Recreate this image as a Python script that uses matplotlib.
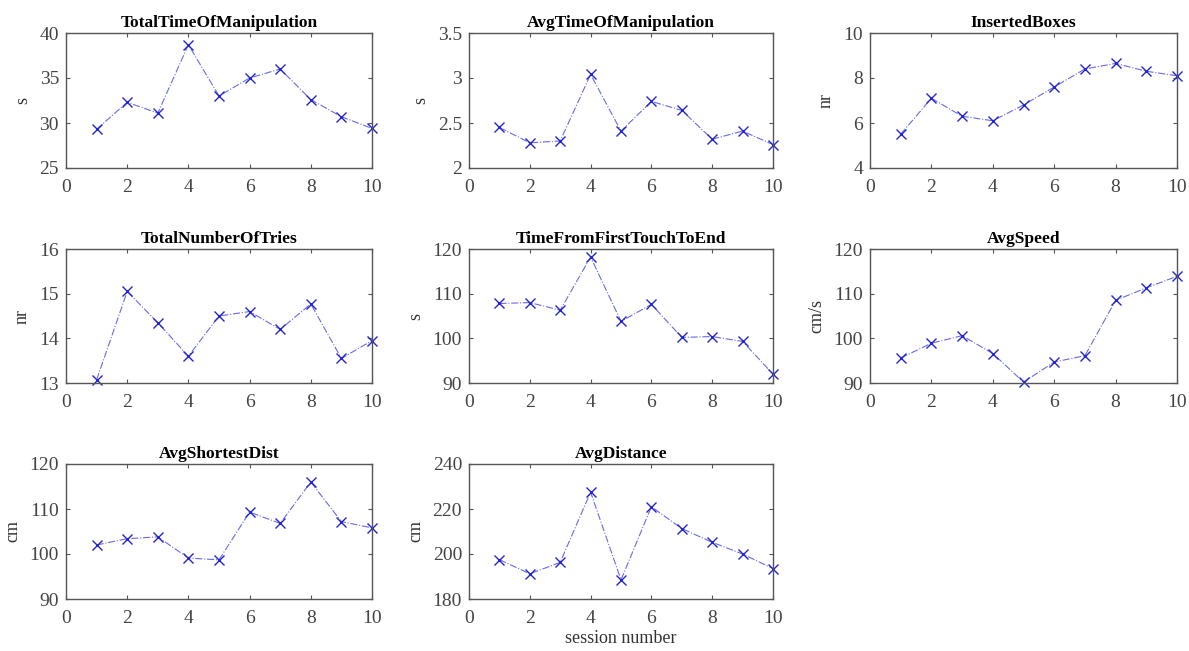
import numpy as np
import matplotlib.pyplot as plt

plt.rcParams['font.family'] = ['Liberation Serif', 'DejaVu Serif']

sessions = [1, 2, 3, 4, 5, 6, 7, 8, 9, 10]

total_time = [29.3, 32.3, 31.1, 38.7, 33.0, 35.0, 36.0, 32.6, 30.7, 29.4]
avg_time = [2.45, 2.28, 2.30, 3.04, 2.41, 2.74, 2.64, 2.32, 2.41, 2.26]
inserted_boxes = [5.5, 7.1, 6.3, 6.1, 6.8, 7.6, 8.4, 8.65, 8.3, 8.1]
total_tries = [13.07, 15.05, 14.35, 13.6, 14.5, 14.6, 14.2, 14.77, 13.55, 13.95]
first_touch_to_end = [107.8, 108.0, 106.3, 118.2, 103.8, 107.6, 100.2, 100.4, 99.3, 92.0]
avg_speed = [95.6, 98.9, 100.6, 96.6, 90.2, 94.7, 96.1, 108.5, 111.3, 113.9]
avg_shortest = [102.0, 103.4, 103.8, 99.1, 98.7, 109.3, 106.8, 116.0, 107.2, 105.8]
avg_distance = [197.5, 191.2, 196.3, 227.5, 188.5, 221.0, 211.3, 205.2, 200.0, 193.5]

titles = ['TotalTimeOfManipulation', 'AvgTimeOfManipulation', 'InsertedBoxes',
          'TotalNumberOfTries', 'TimeFromFirstTouchToEnd', 'AvgSpeed',
          'AvgShortestDist', 'AvgDistance']
units = ['s', 's', 'nr', 'nr', 's', 'cm/s', 'cm', 'cm']
series = [total_time, avg_time, inserted_boxes, total_tries,
          first_touch_to_end, avg_speed, avg_shortest, avg_distance]
ylims = [(25, 40), (2, 3.5), (4, 10), (13, 16), (90, 120), (90, 120), (90, 120), (180, 240)]
yticks = [[25, 30, 35, 40], [2, 2.5, 3, 3.5], [4, 6, 8, 10], [13, 14, 15, 16],
          [90, 100, 110, 120], [90, 100, 110, 120], [90, 100, 110, 120], [180, 200, 220, 240]]

W, H = 1189, 651
fig = plt.figure(figsize=(W / 100, H / 100), dpi=100)

cols = [(66, 372), (469, 773), (870, 1177)]
rows = [(33, 168), (249, 383), (464, 599)]

gray = '#555555'
for i, (t, u, y, yl, yt) in enumerate(zip(titles, units, series, ylims, yticks)):
    l, r = cols[i % 3]
    tp, bt = rows[i // 3]
    ax = fig.add_axes([l / W, 1 - bt / H, (r - l) / W, (bt - tp) / H])
    ax.plot(sessions, y, color='#6a6ae8', linestyle='-.', linewidth=0.8,
            marker='x', markersize=7, markeredgecolor='#2525d0', markeredgewidth=1.0,
            clip_on=False)
    ax.set_xlim(0, 10)
    ax.set_ylim(*yl)
    ax.set_xticks([0, 2, 4, 6, 8, 10])
    ax.set_yticks(yt)
    ax.set_yticklabels([('%g' % v) for v in yt])
    ax.tick_params(direction='in', top=True, right=True, length=3, width=0.8,
                   colors=gray, labelsize=14, labelcolor='#444444')
    ax.tick_params(axis='x', pad=8)
    ax.tick_params(axis='y', pad=5)
    for s in ax.spines.values():
        s.set_color(gray)
        s.set_linewidth(1.0)
    ax.set_title(t, fontsize=12.5, fontweight='bold', pad=4)
    ax.set_ylabel(u, fontsize=13, color='#333333', labelpad=6)
    if i == 7:
        ax.set_xlabel('session number', fontsize=13, color='#333333', labelpad=2)

fig.savefig('out.png', dpi=100)
